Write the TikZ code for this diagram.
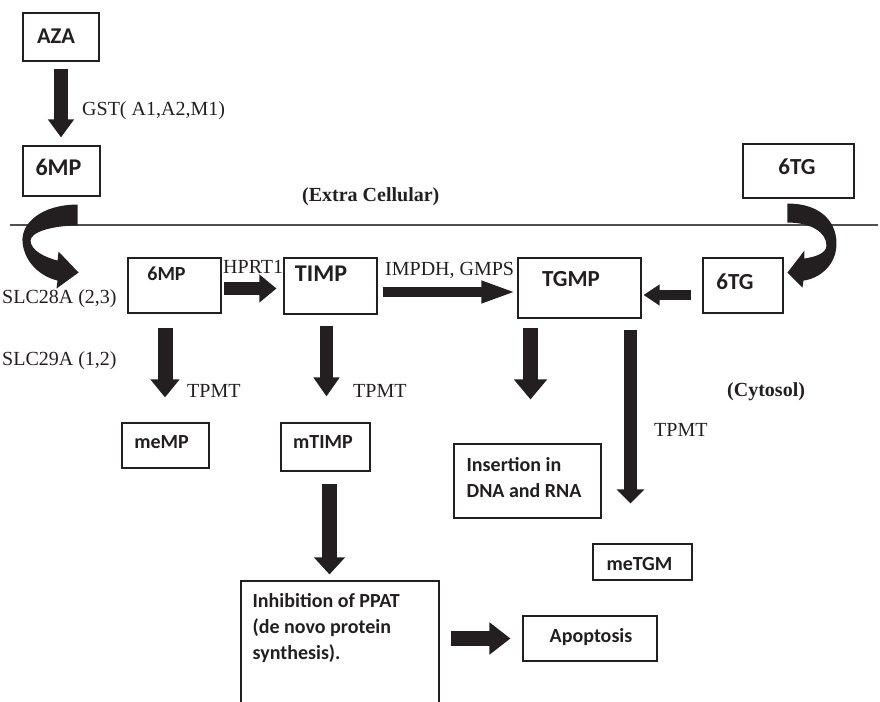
\documentclass[tikz,border=0pt]{standalone}
\usepackage{fontspec}
\setmainfont{Liberation Serif}
\newfontfamily\calib{Carlito}
\usetikzlibrary{arrows.meta}

\definecolor{ink}{HTML}{231F20}
\definecolor{rulegray}{HTML}{505050}

\tikzset{
  box/.style={draw=ink, line width=1.1pt, inner sep=0pt},
  btxt/.style={font={\calib\bfseries\fontsize{#1}{26}\selectfont}, text=ink, inner sep=0pt},
  btxt/.default=20,
  etxt/.style={font={\fontsize{20}{24}\selectfont}, text=ink, inner sep=0pt, anchor=base west},
  blk/.style n args={3}{draw=ink, line width=#1, -{Triangle[width=#2,length=#3]}},
  swoosh/.style={fill=ink, draw=none},
}

\begin{document}
\begin{tikzpicture}[x=1pt,y=-1pt]
\clip (0,0) rectangle (880,701);

% membrane
\draw[rulegray, line width=1.3pt] (10,225) -- (878,225);

% extra cellular side
\node[box, minimum width=76, minimum height=48, label={[btxt=22.5,xshift=-5pt,yshift=1pt]center:AZA}] (aza) at (61,37) {};
\node[box, minimum width=77, minimum height=50, label={[btxt=24,xshift=-3pt,yshift=3.5pt]center:6MP}] (mpout) at (61.5,171) {};
\node[box, minimum width=111, minimum height=54, label={[btxt=23,xshift=-1.5pt,yshift=4pt]center:6TG}] (tgout) at (798.5,171) {};

% cytosol side
\node[box, minimum width=93, minimum height=55, label={[btxt,xshift=-8pt,yshift=12pt]center:6MP}] (mpin) at (174.5,285.5) {};
\node[box, minimum width=93, minimum height=56, label={[btxt=24,xshift=-9.5pt,yshift=12.5pt]center:TIMP}] (timp) at (330.5,286) {};
\node[box, minimum width=123, minimum height=60, label={[btxt=23,xshift=-8.5pt,yshift=8.5pt]center:TGMP}] (tgmp) at (579.5,288) {};
\node[box, minimum width=80, minimum height=55, label={[btxt=23,xshift=-8pt,yshift=4pt]center:6TG}] (tgin) at (743,285.5) {};
\node[box, minimum width=87, minimum height=45, label={[btxt,xshift=-4pt,yshift=3pt]center:meMP}] (memp) at (165.5,445.5) {};
\node[box, minimum width=89, minimum height=48, label={[btxt,xshift=-2.5pt,yshift=4.5pt]center:mTIMP}] (mtimp) at (325.5,447) {};
\node[box, minimum width=147, minimum height=74, label={[btxt,align=left,anchor=north west,xshift=13pt,yshift=-13.5pt]north west:Insertion in\\DNA and RNA}] (ins) at (527.5,481) {};
\node[box, minimum width=99, minimum height=36, label={[btxt,xshift=-3pt,yshift=-2pt]center:meTGM}] (metgm) at (642.5,562) {};
\node[box, minimum width=198, minimum height=150, label={[btxt,align=left,anchor=north west,xshift=12pt,yshift=-13pt]north west:Inhibition of PPAT\\(de novo protein\\synthesis).}] (inh) at (340,656) {};
\node[box, minimum width=134, minimum height=45, label={[btxt,xshift=1pt,yshift=1.5pt]center:Apoptosis}] (apop) at (590,638.5) {};

% enzyme and compartment labels
\node[etxt] (gst) at (82,115) {GST( A1,A2,M1)};
\node[etxt, font={\bfseries\fontsize{20}{24}\selectfont}] (extra) at (302,201) {(Extra Cellular)};
\node[etxt] (hprt) at (223,273) {HPRT1};
\node[etxt] (impdh) at (385,275) {IMPDH, GMPS};
\node[etxt] (slca) at (2,303) {SLC28A (2,3)};
\node[etxt] (slcb) at (2,365) {SLC29A (1,2)};
\node[etxt] (tpmta) at (187,397) {TPMT};
\node[etxt] (tpmtb) at (353,397) {TPMT};
\node[etxt] (tpmtc) at (654,436) {TPMT};
\node[etxt, font={\bfseries\fontsize{20}{24}\selectfont}] (cyto) at (727,396) {(Cytosol)};

% block arrows
\draw[blk={14pt}{25pt}{18pt}, shorten <=7pt, shorten >=8pt] (aza.south) -- (aza.south |- mpout.north);
\draw[blk={12.5pt}{27pt}{17pt}, shorten <=2pt, shorten >=7pt] ([yshift=-3pt]mpin.east) -- ([yshift=-3pt]mpin.east -| timp.west);
\draw[blk={10pt}{20pt}{35pt}, shorten <=5pt, shorten >=1pt] ([yshift=-6pt]timp.east) -- ([yshift=-6pt]timp.east -| tgmp.west);
\draw[blk={10pt}{20pt}{16pt}, shorten <=11pt, shorten >=2pt] ([yshift=-9.5pt]tgin.west) -- ([yshift=-9.5pt]tgin.west -| tgmp.east);
\draw[blk={15pt}{28pt}{18pt}, shorten <=14pt, shorten >=25pt] ([xshift=-9.5pt]mpin.south) -- ([xshift=-9.5pt]mpin.south |- memp.north);
\draw[blk={13pt}{25pt}{19pt}, shorten <=11pt, shorten >=26pt] ([xshift=-4pt]timp.south) -- ([xshift=-4pt]timp.south |- mtimp.north);
\draw[blk={15pt}{30pt}{17pt}, shorten <=12pt, shorten >=6pt] ([xshift=4pt]mtimp.south) -- ([xshift=4pt]mtimp.south |- inh.north);
\draw[blk={15pt}{32pt}{20pt}, shorten <=9pt, shorten >=44pt] ([xshift=-49pt]tgmp.south) -- ([xshift=-49pt]tgmp.south |- ins.north);
\draw[blk={13pt}{27pt}{14pt}, shorten <=11pt, shorten >=40pt] ([xshift=51pt]tgmp.south) -- ([xshift=51pt]tgmp.south |- metgm.north);
\draw[blk={15pt}{31pt}{21pt}, shorten <=11pt, shorten >=12pt] (apop.west -| inh.east) -- (apop.west);

% curved uptake arrows through the membrane
\begin{scope}[shift={(mpout.south east)}]
  \fill[swoosh] (-23,8) .. controls (-58,8) and (-80,26) .. (-78,46)
    .. controls (-76,66) and (-60,80) .. (-43,84) -- (-44,92) -- (-22,76) -- (-42,55) -- (-43,64)
    .. controls (-55,61) and (-70,54) .. (-70,44)
    .. controls (-70,36) and (-50,29) .. (-23,29) -- cycle;
\end{scope}
\begin{scope}[shift={(tgout.south west)}]
  \fill[swoosh] (45,5) .. controls (82,5) and (95,27) .. (94,47)
    .. controls (93,67) and (77,80) .. (61,82) -- (60,89) -- (45,74) -- (62,52) -- (62,60)
    .. controls (75,58) and (84,54) .. (84,47)
    .. controls (84,34) and (69,24) .. (45,24) -- cycle;
\end{scope}
\end{tikzpicture}
\end{document}
